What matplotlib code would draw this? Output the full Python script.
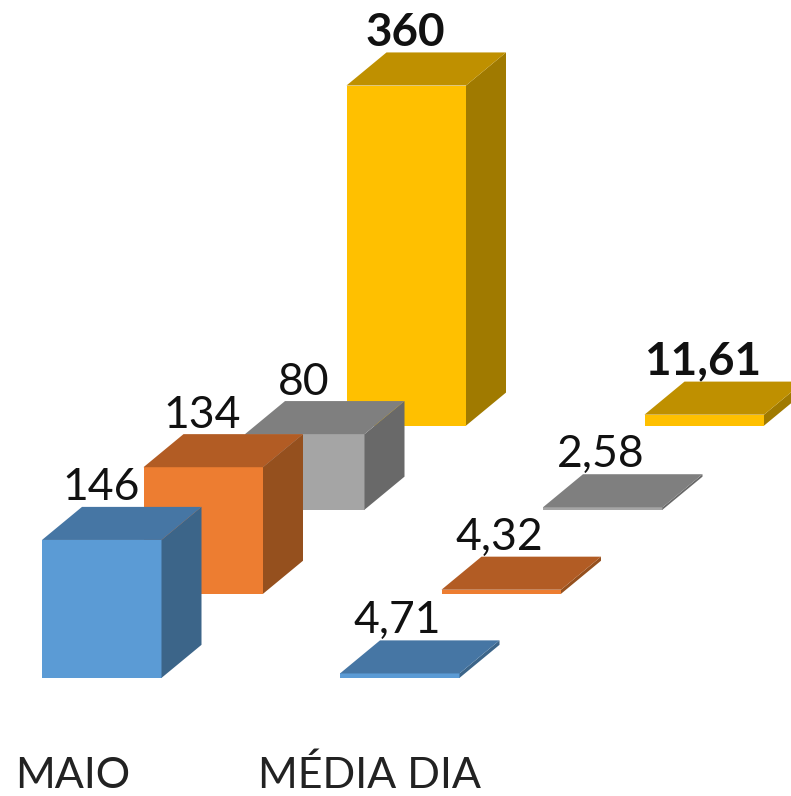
import matplotlib.pyplot as plt
from matplotlib.patches import Polygon

plt.rcParams['font.family'] = ['Lato', 'DejaVu Sans']

#
# Data
#
categories = ["MAIO", "MÉDIA DIA"]
maio = [146, 134, 80, 360]
media_dia = [4.71, 4.32, 2.58, 11.61]
media_labels = ["4,71", "4,32", "2,58", "11,61"]

front_colors = ["#5B9BD5", "#ED7D31", "#A5A5A5", "#FFC000"]
top_colors = ["#4676A4", "#B25C24", "#7F7F7F", "#BF9000"]
side_colors = ["#3C6589", "#95501E", "#696969", "#A07A00"]

# Pseudo 3D geometry. x is in pixels, y in chart units
bar_width = 119.5
group_step = 298
series_step = 101.5
x_start = 42
depth_x = 40
depth_y = 35
series_depth = 89


def draw_bar(ax, x, base, value, idx):
    top = base + value
    ax.add_patch(Polygon([(x, base), (x + bar_width, base), (x + bar_width, top), (x, top)],
                         facecolor=front_colors[idx], edgecolor="none"))
    ax.add_patch(Polygon([(x + bar_width, base), (x + bar_width + depth_x, base + depth_y),
                          (x + bar_width + depth_x, top + depth_y), (x + bar_width, top)],
                         facecolor=side_colors[idx], edgecolor="none"))
    ax.add_patch(Polygon([(x, top), (x + bar_width, top),
                          (x + bar_width + depth_x, top + depth_y), (x + depth_x, top + depth_y)],
                         facecolor=top_colors[idx], edgecolor="none"))


fig = plt.figure(figsize=(7.91, 7.96), dpi=100)
ax = fig.add_axes([0, 0, 1, 1])
ax.set_xlim(0, 791)
ax.set_ylim(-125, 717.5)
ax.axis("off")

# Back series first so the front ones cover them
for idx in [3, 2, 1, 0]:
    base = idx * series_depth
    x = x_start + idx * series_step
    weight = "bold" if idx == 3 else "normal"
    size = 33 if idx == 3 else 32

    draw_bar(ax, x, base, maio[idx], idx)
    ax.annotate(str(maio[idx]), (x + bar_width / 2, base + maio[idx]), xytext=(-0.5, 37.5),
                textcoords="offset points", ha="center", va="center",
                fontsize=size, weight=weight, color="#111111")

    draw_bar(ax, x + group_step, base, media_dia[idx], idx)
    ax.annotate(media_labels[idx], (x + group_step + bar_width / 2, base + media_dia[idx]),
                xytext=(-1.5, 38), textcoords="offset points", ha="center", va="center",
                fontsize=size, weight=weight, color="#111111")

# Category labels
ax.text(73, -103.5, categories[0], ha="center", va="center", fontsize=31, color="#222222")
ax.text(369, -103.5, categories[1], ha="center", va="center", fontsize=31, color="#222222")

fig.savefig("out.png", dpi=100)
